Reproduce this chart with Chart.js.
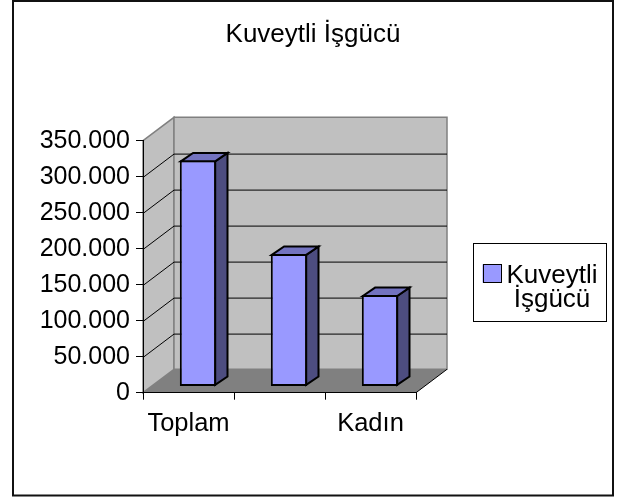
<!DOCTYPE html>
<html>
<head>
<meta charset="utf-8">
<script src="https://cdn.jsdelivr.net/npm/chart.js@4.4.1/dist/chart.umd.min.js"></script>
<style>
html,body{margin:0;padding:0;background:#fff;}
#wrap{width:628px;height:497px;position:relative;}
canvas{display:block;}
</style>
</head>
<body>
<div id="wrap"><canvas id="c" width="628" height="497"></canvas></div>
<script>
// ---- data ----
const chartTitle = 'Kuveytli İşgücü';
const seriesName = 'Kuveytli İşgücü';
const categories = ['Toplam', 'Erkek', 'Kadın'];
const values = [314000, 184000, 127000];
const xTickLabels = ['Toplam', '', 'Kadın'];
const yTickValues = [0, 50000, 100000, 150000, 200000, 250000, 300000, 350000];
const yTickLabels = ['0', '50.000', '100.000', '150.000', '200.000', '250.000', '300.000', '350.000'];

// ---- styles ----
const FONT = "'Liberation Sans', Arial, sans-serif";
const DEPTH_X = 31, DEPTH_Y = -23.4;     // full depth of the 3D box
const BAR_OX = 9.5, BAR_OY = -6.3;       // bar front face offset
const BAR_DX = 12.3, BAR_DY = -8.4;      // bar depth
const COL_FRONT = '#9999FF', COL_SIDE = '#4D4D80', COL_TOP = '#7373C0';
const COL_WALL = '#C0C0C0', COL_WALL_EDGE = '#808080', COL_FLOOR = '#808080';

const depthPlugin = {
  id: 'depth3d',
  beforeDraw(chart) {
    const ctx = chart.ctx, a = chart.chartArea, ys = chart.scales.y;
    ctx.save();
    ctx.fillStyle = '#fff';
    ctx.fillRect(0, 0, chart.width, chart.height);
    const L = a.left, R = a.right, T = a.top, B = a.bottom;
    // floor
    ctx.beginPath();
    ctx.moveTo(L, B); ctx.lineTo(R, B); ctx.lineTo(R + DEPTH_X, B + DEPTH_Y); ctx.lineTo(L + DEPTH_X, B + DEPTH_Y); ctx.closePath();
    ctx.fillStyle = COL_FLOOR; ctx.fill();
    // left wall
    ctx.beginPath();
    ctx.moveTo(L, B); ctx.lineTo(L, T); ctx.lineTo(L + DEPTH_X, T + DEPTH_Y); ctx.lineTo(L + DEPTH_X, B + DEPTH_Y); ctx.closePath();
    ctx.fillStyle = COL_WALL; ctx.fill();
    ctx.lineWidth = 1.5; ctx.strokeStyle = COL_WALL_EDGE; ctx.stroke();
    // back wall
    ctx.beginPath();
    ctx.rect(L + DEPTH_X, T + DEPTH_Y, R - L, B - T);
    ctx.fillStyle = COL_WALL; ctx.fill();
    ctx.stroke();
    // grid lines
    ctx.lineWidth = 1; ctx.strokeStyle = '#000';
    yTickValues.forEach(v => {
      if (v === yTickValues[0] || v === yTickValues[yTickValues.length - 1]) return;
      const y = Math.round(ys.getPixelForValue(v)) + 0.5;
      ctx.beginPath();
      ctx.moveTo(L, y); ctx.lineTo(L + DEPTH_X, y + DEPTH_Y); ctx.lineTo(R + DEPTH_X, y + DEPTH_Y);
      ctx.stroke();
    });
    // floor right edge
    ctx.beginPath();
    ctx.moveTo(R, B); ctx.lineTo(R + DEPTH_X, B + DEPTH_Y);
    ctx.stroke();
    ctx.restore();
  },
  beforeDatasetDraw(chart) {
    chart.ctx.save();
    chart.ctx.translate(BAR_OX, BAR_OY);
  },
  afterDatasetDraw(chart) {
    chart.ctx.restore();
  },
  afterDatasetsDraw(chart) {
    const ctx = chart.ctx;
    const meta = chart.getDatasetMeta(0);
    ctx.save();
    ctx.lineWidth = 2; ctx.strokeStyle = '#000'; ctx.lineJoin = 'miter';
    meta.data.forEach(bar => {
      const p = bar.getProps(['x', 'y', 'base', 'width'], true);
      const l = p.x - p.width / 2 + BAR_OX, r = p.x + p.width / 2 + BAR_OX;
      const t = p.y + BAR_OY, b = p.base + BAR_OY;
      // side
      ctx.beginPath();
      ctx.moveTo(r - 1, t + 1); ctx.lineTo(r - 1 + BAR_DX, t + 1 + BAR_DY); ctx.lineTo(r - 1 + BAR_DX, b - 1 + BAR_DY); ctx.lineTo(r - 1, b - 1); ctx.closePath();
      ctx.fillStyle = COL_SIDE; ctx.fill(); ctx.stroke();
      // top
      ctx.beginPath();
      ctx.moveTo(l + 1, t + 1); ctx.lineTo(l + 1 + BAR_DX, t + 1 + BAR_DY); ctx.lineTo(r - 1 + BAR_DX, t + 1 + BAR_DY); ctx.lineTo(r - 1, t + 1); ctx.closePath();
      ctx.fillStyle = COL_TOP; ctx.fill(); ctx.stroke();
    });
    ctx.restore();
  },
  afterDraw(chart) {
    const ctx = chart.ctx;
    ctx.save();
    ctx.strokeStyle = '#111'; ctx.lineWidth = 2;
    ctx.strokeRect(13, 1, 600, 494.5);
    ctx.restore();
  }
};

const legendBoxPlugin = {
  id: 'legendBox',
  beforeInit(chart) {
    const box = {
      position: 'right', weight: 1000, fullSize: false, options: {},
      left: 0, top: 0, right: 0, bottom: 0, width: 0, height: 0,
      isHorizontal() { return false; },
      update(maxW, maxH) { this.width = 198; this.height = maxH; },
      draw() {
        const ctx = chart.ctx;
        const ds = chart.data.datasets[0];
        const x = this.left + 56.5, y = chart.chartArea.top + 102.6, w = 133, h = 78.4;
        ctx.save();
        ctx.fillStyle = '#fff'; ctx.fillRect(x, y, w, h);
        ctx.strokeStyle = '#000'; ctx.lineWidth = 1;
        ctx.strokeRect(Math.round(x) + 0.5, Math.round(y) + 0.5, Math.round(w), Math.round(h));
        ctx.fillStyle = ds.backgroundColor;
        ctx.fillRect(x + 10, y + 21, 18.4, 18.4);
        ctx.strokeRect(Math.round(x + 10) + 0.5, Math.round(y + 21) + 0.5, 18, 18);
        ctx.fillStyle = '#000';
        ctx.font = '26px ' + FONT;
        ctx.textAlign = 'center'; ctx.textBaseline = 'alphabetic';
        const words = ds.label.split(' ');
        ctx.fillText(words[0], x + 79.5, y + 39.5);
        ctx.fillText(words.slice(1).join(' '), x + 79.5, y + 63.4);
        ctx.restore();
      }
    };
    Chart.layouts.addBox(chart, box);
  }
};

new Chart(document.getElementById('c'), {
  type: 'bar',
  data: {
    labels: categories,
    datasets: [{
      label: seriesName,
      data: values,
      backgroundColor: COL_FRONT,
      borderColor: '#000',
      borderWidth: 2,
      borderSkipped: false,
      barPercentage: 0.4,
      categoryPercentage: 1.0
    }]
  },
  options: {
    responsive: false,
    animation: false,
    devicePixelRatio: 1,
    layout: { padding: { left: 12, right: 14, top: 0, bottom: 44.3 } },
    plugins: {
      legend: { display: false },
      tooltip: { enabled: false },
      title: {
        display: true,
        text: chartTitle,
        color: '#000',
        font: { family: FONT, size: 26, weight: 'normal', lineHeight: 1.2 },
        padding: { top: 19.6, bottom: 89.9 }
      }
    },
    scales: {
      x: {
        offset: true,
        grid: { display: true, offset: true, drawOnChartArea: false, drawTicks: true, tickLength: 7, color: '#000', lineWidth: 1 },
        border: { display: true, color: '#000', width: 1 },
        ticks: {
          autoSkip: false, maxRotation: 0, color: '#000', padding: 9,
          font: { family: FONT, size: 25.5 },
          callback: (v, i) => xTickLabels[i]
        },
        afterFit: s => { s.height = 60; }
      },
      y: {
        min: 0, max: 350000,
        grid: { display: true, drawOnChartArea: false, drawTicks: true, tickLength: 7, color: '#000', lineWidth: 1 },
        border: { display: true, color: '#000', width: 1 },
        ticks: {
          stepSize: 50000, color: '#000', padding: 6,
          font: { family: FONT, size: 25 },
          callback: v => { const i = yTickValues.indexOf(v); return i >= 0 ? yTickLabels[i] : ''; }
        },
        afterFit: s => { s.width = 131; }
      }
    }
  },
  plugins: [depthPlugin, legendBoxPlugin]
});
</script>
</body>
</html>
